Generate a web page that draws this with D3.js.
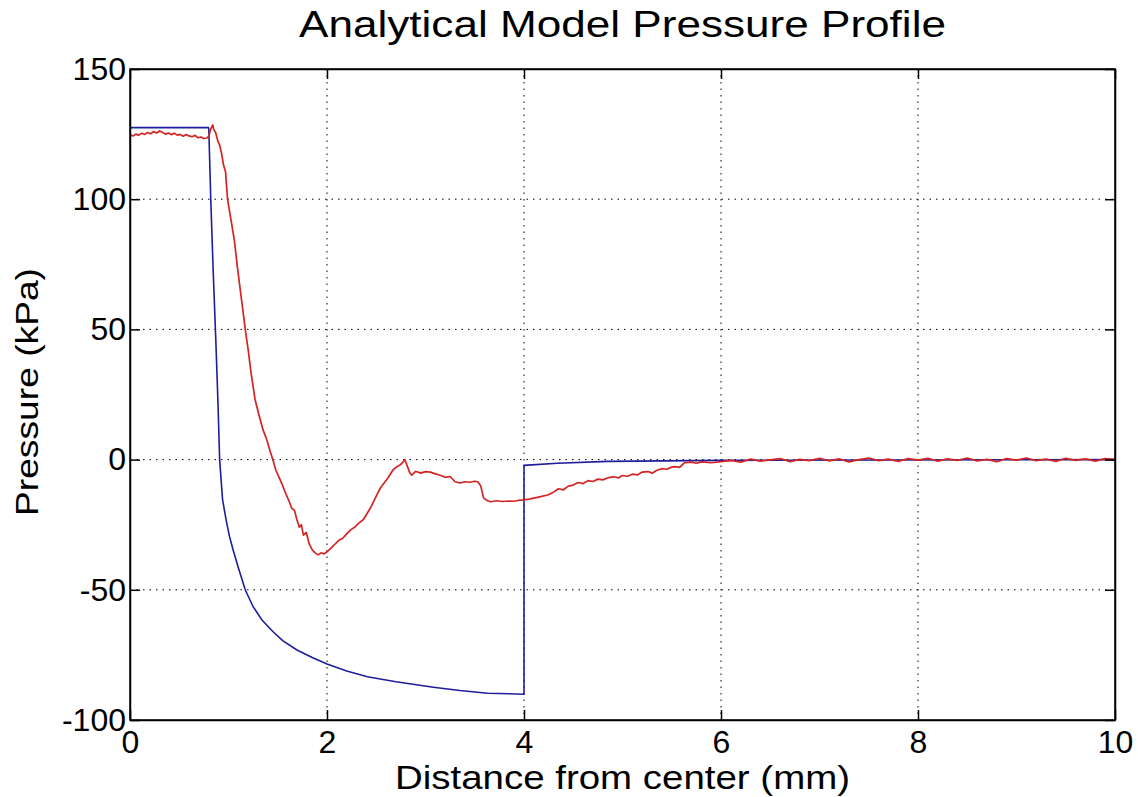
<!DOCTYPE html>
<meta charset="utf-8">
<style>
body { margin: 0; background: #fff; }
text { font-family: "Liberation Sans", Arial, sans-serif; fill: #000; }
.grid line { stroke: #000; stroke-dasharray: 1.5,5; stroke-width: 1; }
</style>
<body>
<script src="https://cdnjs.cloudflare.com/ajax/libs/d3/7.8.5/d3.min.js"></script>
<script>

// axis ticks
var xTicks = [0, 2, 4, 6, 8, 10],
	yTicks = [-100, -50, 0, 50, 100, 150];

// analytical model (blue)
var blueX = [0, 0.796, 0.80, 0.82, 0.845, 0.872, 0.893, 0.91, 0.94, 0.98, 1.01, 1.047, 1.1, 1.17, 1.25, 1.34, 1.45, 1.55, 1.695, 1.85, 2.0, 2.2, 2.41, 2.7, 3.08, 3.35, 3.63, 4.0, 4.0, 4.34, 4.85, 6.0, 10.0],
	blueY = [127.5, 127.5, 127, 100, 72, 45, 22, 0, -15.5, -24, -29.5, -34.7, -41.5, -50, -56.5, -61.6, -66, -69.5, -73.1, -76, -78.5, -81.2, -83.4, -85.3, -87.4, -88.7, -89.7, -90.1, -2.2, -1.4, -0.7, -0.3, 0];

// measured profile (red)
var redX = [0.00, 0.03, 0.06, 0.09, 0.12, 0.15, 0.18, 0.21, 0.24, 0.27, 0.30, 0.33, 0.36, 0.39, 0.42, 0.45, 0.48, 0.51, 0.54, 0.57, 0.60, 0.63, 0.66, 0.69, 0.72, 0.75, 0.78, 0.80, 0.82, 0.84, 0.85, 0.87, 0.89, 0.91, 0.93, 0.95, 0.97, 0.99,
		1.03, 1.06, 1.09, 1.12, 1.146, 1.17, 1.20, 1.23, 1.27, 1.31, 1.35, 1.39, 1.42, 1.45, 1.48, 1.51, 1.55, 1.58, 1.61, 1.64, 1.67, 1.695, 1.72, 1.74, 1.76, 1.79, 1.82, 1.85, 1.88, 1.91, 1.94, 1.97,
		2.00, 2.04, 2.08, 2.12, 2.16, 2.20, 2.24, 2.28, 2.32, 2.37, 2.41, 2.45, 2.50, 2.54, 2.58, 2.62, 2.67, 2.71, 2.745, 2.77, 2.79, 2.81, 2.84, 2.86, 2.90, 2.95,
		3.00, 3.05, 3.10, 3.15, 3.20, 3.25, 3.30, 3.35, 3.40, 3.45, 3.50, 3.53, 3.56, 3.59, 3.63, 3.66, 3.72, 3.78, 3.84, 3.90, 3.95,
		4.00, 4.05, 4.10, 4.17, 4.24, 4.30, 4.35, 4.40, 4.45, 4.50, 4.55, 4.60, 4.65, 4.70, 4.75, 4.80, 4.86, 4.91, 4.96,
		5.00, 5.05, 5.10, 5.15, 5.20, 5.26, 5.30, 5.35, 5.40, 5.45, 5.50, 5.53, 5.58, 5.63, 5.70, 5.75, 5.80, 5.90,
		6.0, 6.1, 6.2, 6.3, 6.4, 6.5, 6.6, 6.7, 6.8, 6.9, 7.0, 7.1, 7.2, 7.3, 7.4, 7.5, 7.6, 7.7, 7.8, 7.9,
		8.0, 8.1, 8.2, 8.3, 8.4, 8.5, 8.6, 8.7, 8.8, 8.9, 9.0, 9.1, 9.2, 9.3, 9.4, 9.5, 9.6, 9.7, 9.8, 9.9, 10.0],
	redY = [124.8, 124.3, 125.0, 124.6, 125.3, 124.9, 125.6, 125.1, 126.0, 125.4, 126.2, 125.6, 125.0, 125.4, 124.8, 125.3, 124.6, 124.9, 124.2, 124.8, 124.3, 124.0, 124.5, 123.6, 123.9, 123.3, 123.5, 124.2, 127.0, 128.5, 126.8, 125.5, 122.5, 120.8, 117.5, 113.0, 110.5, 100.0,
		91, 84, 74, 65, 57.4, 50, 42, 33, 23, 17, 11.5, 7.5, 3.5, 0, -4, -6.5, -10, -13, -15.5, -18.5, -19.5, -23.2, -26, -25, -29, -28, -32.5, -34.7, -35.8, -36.6, -35.8, -36.2,
		-35.4, -34, -32.5, -31, -30.2, -28.5, -27, -26, -24.5, -23, -20.5, -18, -14, -11, -9, -7, -4, -2.7, -2, -1, 0, -2, -5, -6, -4.5, -5.2,
		-4.6, -4.8, -5.5, -6, -6.8, -6.5, -8.5, -9, -8.5, -8.7, -8.3, -8.5, -10, -14.8, -15.8, -16.2, -15.8, -16.1, -15.9, -16, -15.6,
		-15.5, -15.2, -14.8, -14.2, -13.6, -12.5, -11.2, -11.6, -10.2, -9.8, -8.8, -9.2, -8.1, -8.4, -7.5, -7.8, -6.9, -6.6, -7.0,
		-6.1, -6.4, -5.6, -5.9, -4.8, -4.6, -5.2, -4.1, -3.5, -3.7, -2.9, -2.7, -3.0, -1.2, -1.0, -1.4, -0.9, -1.2,
		-0.8, -0.3, -1.0, 0.2, -0.6, -0.1, 0.4, -0.8, 0.1, -0.4, 0.5, -0.5, 0.3, -0.9, 0.0, 0.6, -0.4, 0.2, -0.7, 0.4,
		-0.2, 0.5, -0.6, 0.3, -0.3, 0.6, -0.5, 0.1, -0.8, 0.4, -0.2, 0.6, -0.4, 0.2, -0.7, 0.5, -0.3, 0.3, -0.6, 0.4, 0.1];

var width = 1138,
	height = 797,
	plotL = 130, plotR = 1115, plotT = 69, plotB = 720;

var svg = d3.select("body").append("svg")
	.attr("width", width)
	.attr("height", height);

var x = d3.scaleLinear().domain([0, 10]).range([plotL, plotR]),
	y = d3.scaleLinear().domain([-100, 150]).range([plotB, plotT]);

// plain hyphen for negatives, as in the original figure
var fmt = function(d) { return String(d); };

// grid
var grid = svg.append("g").attr("class", "grid");
grid.selectAll(".gx").data(xTicks.slice(1, -1)).enter().append("line")
	.attr("x1", x).attr("x2", x).attr("y1", plotT).attr("y2", plotB);
grid.selectAll(".gy").data(yTicks.slice(1, -1)).enter().append("line")
	.attr("y1", y).attr("y2", y).attr("x1", plotL).attr("x2", plotR);

// lines
var line = d3.line()
	.x(function(d) { return x(d[0]); })
	.y(function(d) { return y(d[1]); });

svg.append("path")
	.datum(d3.zip(blueX, blueY))
	.attr("fill", "none")
	.attr("stroke", "#1e1e9c")
	.attr("stroke-width", 1.6)
	.attr("d", line);

svg.append("path")
	.datum(d3.zip(redX, redY))
	.attr("fill", "none")
	.attr("stroke", "#d42424")
	.attr("stroke-width", 1.7)
	.attr("stroke-linejoin", "round")
	.attr("d", line);

// axes: ticks point inward, all four sides
var tk = 10;
svg.append("g").attr("transform", "translate(0," + plotB + ")")
	.call(d3.axisBottom(x).tickValues(xTicks).tickFormat(fmt).tickSizeInner(-tk).tickSizeOuter(0))
	.call(function(g) { g.selectAll("text").style("font-size", "32px").attr("y", 10).attr("dy", "0.72em"); });
svg.append("g").attr("transform", "translate(0," + plotT + ")")
	.call(d3.axisTop(x).tickValues(xTicks).tickSizeInner(-tk).tickSizeOuter(0).tickFormat(""));
svg.append("g").attr("transform", "translate(" + plotL + ",0)")
	.call(d3.axisLeft(y).tickValues(yTicks).tickFormat(fmt).tickSizeInner(-tk).tickSizeOuter(0))
	.call(function(g) { g.selectAll("text").style("font-size", "32px").attr("x", -4); });
svg.append("g").attr("transform", "translate(" + plotR + ",0)")
	.call(d3.axisRight(y).tickValues(yTicks).tickSizeInner(-tk).tickSizeOuter(0).tickFormat(""));

svg.selectAll(".domain, .tick line").attr("stroke", "#000").attr("stroke-width", 1.5);
svg.selectAll(".tick text").attr("fill", "#000").attr("font-family", null);

svg.append("rect")
	.attr("x", plotL).attr("y", plotT)
	.attr("width", plotR - plotL).attr("height", plotB - plotT)
	.attr("fill", "none").attr("stroke", "#000").attr("stroke-width", 1.5);

// labels
svg.append("text")
	.attr("x", (plotL + plotR) / 2).attr("y", 37)
	.attr("text-anchor", "middle")
	.style("font-size", "37px")
	.attr("textLength", 647).attr("lengthAdjust", "spacingAndGlyphs")
	.text("Analytical Model Pressure Profile");

svg.append("text")
	.attr("x", (plotL + plotR) / 2).attr("y", 789)
	.attr("text-anchor", "middle")
	.style("font-size", "33px")
	.attr("textLength", 455).attr("lengthAdjust", "spacingAndGlyphs")
	.text("Distance from center (mm)");

svg.append("text")
	.attr("transform", "translate(38," + 392 + ") rotate(-90)")
	.attr("text-anchor", "middle")
	.style("font-size", "32px")
	.attr("textLength", 248).attr("lengthAdjust", "spacingAndGlyphs")
	.text("Pressure (kPa)");

</script>
</body>
</html>
